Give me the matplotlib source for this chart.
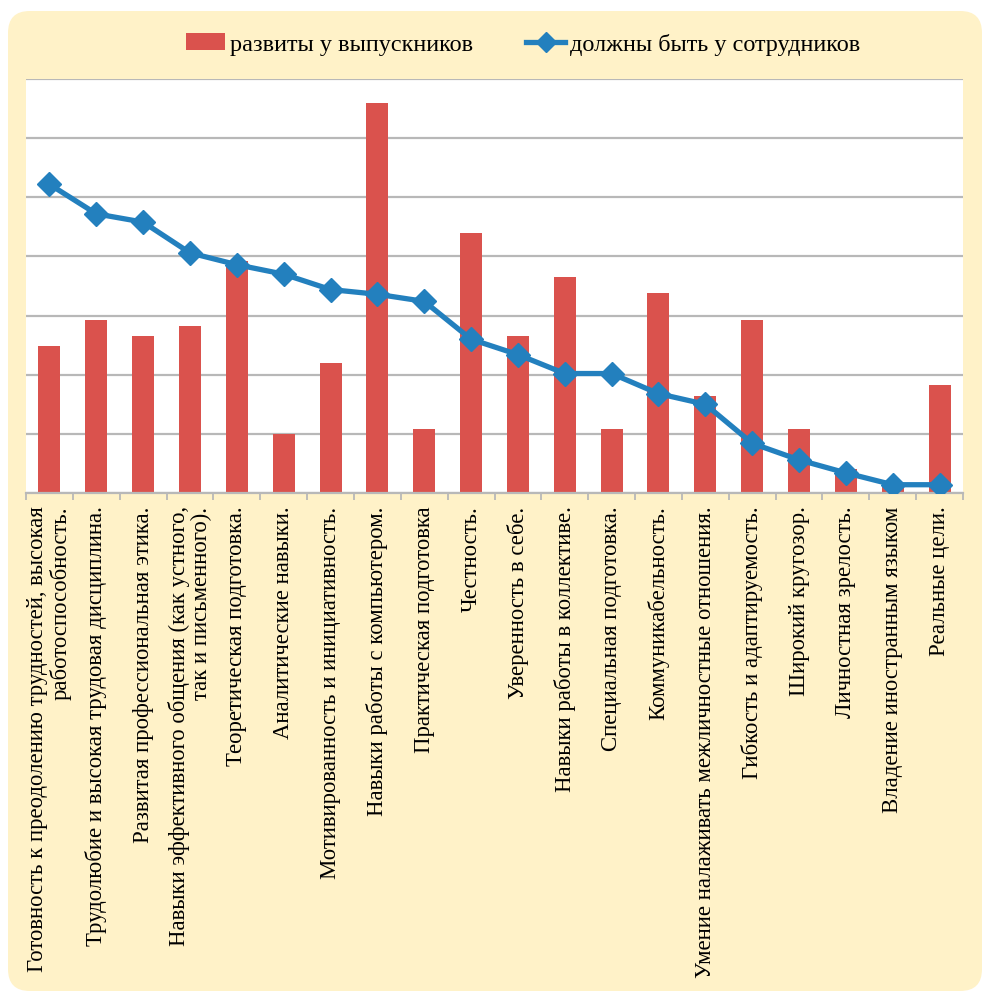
"""Bar + line chart: skills developed in graduates vs. skills employees should have."""

import matplotlib

matplotlib.use("Agg")
import matplotlib.pyplot as plt
import numpy as np
from matplotlib.lines import Line2D
from matplotlib.patches import FancyBboxPatch, Patch

# Data (in gridline units: 5 per grid step)
categories = [
    "Готовность к преодолению трудностей, высокая\nработоспособность.",
    "Трудолюбие и высокая трудовая дисциплина.",
    "Развитая профессиональная этика.",
    "Навыки эффективного общения (как устного,\nтак и письменного).",
    "Теоретическая подготовка.",
    "Аналитические навыки.",
    "Мотивированность и инициативность.",
    "Навыки работы с компьютером.",
    "Практическая подготовка",
    "Честность.",
    "Уверенность в себе.",
    "Навыки работы в коллективе.",
    "Специальная подготовка.",
    "Коммуникабельность.",
    "Умение налаживать межличностные отношения.",
    "Гибкость и адаптируемость.",
    "Широкий кругозор.",
    "Личностная зрелость.",
    "Владение иностранным языком",
    "Реальные цели.",
]
graduates = [12.4, 14.6, 13.3, 14.1, 19.6, 5.0, 11.0, 33.0, 5.4, 22.0,
             13.3, 18.3, 5.4, 16.9, 8.2, 14.6, 5.4, 2.0, 0.7, 9.1]
employees = [26.1, 23.6, 22.9, 20.3, 19.3, 18.5, 17.2, 16.8, 16.2, 13.0,
             11.7, 10.1, 10.1, 8.4, 7.5, 4.2, 2.8, 1.7, 0.7, 0.7]
legend_labels = ["развиты у выпускников", "должны быть у сотрудников"]

BAR_COLOR = "#DA524D"
LINE_COLOR = "#2380BE"
PANEL_COLOR = "#FFF2C8"
GRID_COLOR = "#B8B8B8"
FONT = "Liberation Serif"

W, H = 985, 995
fig = plt.figure(figsize=(W / 100, H / 100), dpi=100, facecolor="white")

# yellow rounded panel behind everything
panel = FancyBboxPatch(
    (8 / W, 1 - 992 / H), 974 / W, 980 / H,
    boxstyle="round,pad=0,rounding_size=0.022",
    transform=fig.transFigure, facecolor=PANEL_COLOR, edgecolor="none", zorder=-10,
)
fig.patches.append(panel)

ax = fig.add_axes([26 / W, 1 - 494 / H, 937 / W, 414 / H])
ax.set_zorder(1)
ax.set_facecolor("white")

x = np.arange(len(categories))
ax.bar(x, graduates, width=0.47, color=BAR_COLOR, zorder=2)
ax.plot(x, employees, color=LINE_COLOR, lw=3.8, marker="D", markersize=12.5, zorder=3)

ax.set_xlim(-0.5, len(categories) - 0.5)
ax.set_ylim(0, 35)
ax.set_yticks(np.arange(0, 36, 5))
ax.yaxis.grid(True, color=GRID_COLOR, lw=1.6, zorder=1)
ax.set_axisbelow(True)
ax.tick_params(axis="y", length=0, labelleft=False)

for side in ["left", "right", "top"]:
    ax.spines[side].set_visible(False)
ax.spines["bottom"].set_color(GRID_COLOR)
ax.spines["bottom"].set_linewidth(1.6)

# category labels at centres, tick marks between categories
ax.set_xticks(x)
ax.set_xticklabels(categories, rotation=90, fontsize=16.4, family=FONT,
                   va="top", ha="center", multialignment="right", linespacing=1.05)
ax.tick_params(axis="x", which="major", length=0, pad=9)
ax.set_xticks(np.arange(-0.5, len(categories)), minor=True)
ax.tick_params(axis="x", which="minor", length=5, width=1.3, color=GRID_COLOR)

handles = [
    Patch(facecolor=BAR_COLOR, edgecolor="none"),
    Line2D([], [], color=LINE_COLOR, lw=3.8, marker="D", markersize=10),
]
fig.legend(handles, legend_labels, loc="center", bbox_to_anchor=(523 / W, 1 - 45 / H),
           ncol=2, frameon=False, prop={"family": FONT, "size": 17.5},
           handlelength=1.6, handletextpad=0.2, columnspacing=2.2)

fig.savefig("out.png", dpi=100)
